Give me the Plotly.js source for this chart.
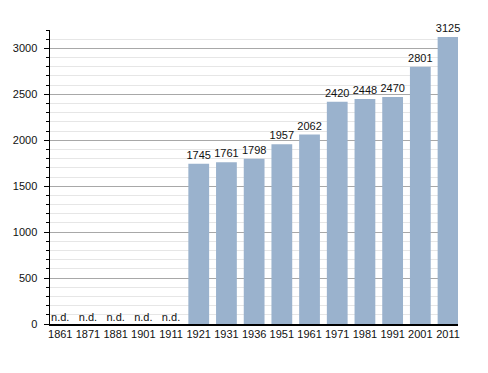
<!DOCTYPE html>
<html>
<head>
<meta charset="utf-8">
<script src="https://cdn.plot.ly/plotly-3.0.1.min.js"></script>
<style>html,body{margin:0;padding:0;background:#fff;}#chart{width:488px;height:373px;}</style>
</head>
<body>
<div id="chart"></div>
<script>
const years = ['1861','1871','1881','1901','1911','1921','1931','1936','1951','1961','1971','1981','1991','2001','2011'];
const population = [null,null,null,null,null,1745,1761,1798,1957,2062,2420,2448,2470,2801,3125];
const missingLabel = 'n.d.';

const barY = population.map(v => v === null ? 0 : v);
const barText = population.map(v => v === null ? '' : String(v));
const ndX = years.filter((y, i) => population[i] === null);
const ndY = ndX.map(() => 0);
const ndText = ndX.map(() => missingLabel);

const FONT = 'Liberation Sans, Arial, sans-serif';
const FS = 11;

const traces = [
  {
    type: 'bar', x: years, y: barY, text: barText, textposition: 'outside',
    constraintext: 'none',
    textfont: {family: FONT, size: FS, color: '#111'},
    marker: {color: '#9ab2cd'}, cliponaxis: false, hoverinfo: 'x+y'
  },
  {
    type: 'scatter', mode: 'text', x: ndX, y: ndY, text: ndText, textposition: 'top center',
    textfont: {family: FONT, size: FS, color: '#111'},
    cliponaxis: false, hoverinfo: 'skip'
  }
];

const layout = {
  width: 488, height: 373,
  margin: {l: 50, r: 30, t: 30, b: 49},
  paper_bgcolor: '#fff', plot_bgcolor: '#fff',
  showlegend: false,
  bargap: 0.25,
  font: {family: FONT, size: FS, color: '#111'},
  xaxis: {
    type: 'category', range: [-0.37, 14.36],
    showline: true, linecolor: '#000', linewidth: 1.5,
    ticks: '', showgrid: false, zeroline: false,
    ticklabelstandoff: -1,
    tickfont: {size: FS, color: '#111'}
  },
  yaxis: {
    range: [0, 3200], dtick: 500, tick0: 0,
    showline: true, linecolor: '#000', linewidth: 1.5,
    ticks: 'outside', ticklen: 5, tickcolor: '#000',
    ticklabelstandoff: 4,
    showgrid: true, gridcolor: '#a8a8a8', gridwidth: 1,
    zeroline: false,
    minor: {dtick: 100, tick0: 0, showgrid: true, gridcolor: '#e6e6e6', ticks: 'outside', ticklen: 3, tickcolor: '#000'},
    tickfont: {size: FS, color: '#111'}
  }
};

Plotly.newPlot('chart', traces, layout, {displayModeBar: false, staticPlot: true});
</script>
</body>
</html>
